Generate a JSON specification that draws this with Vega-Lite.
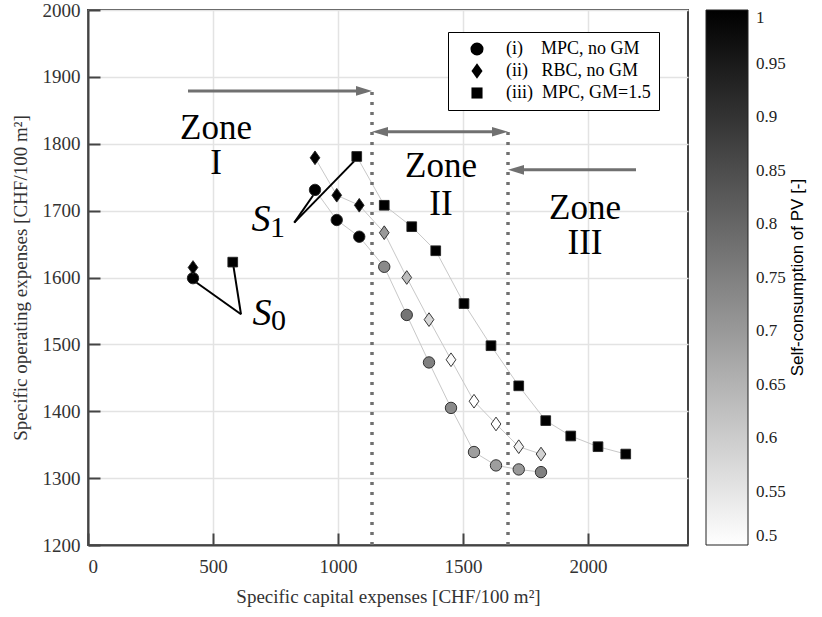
{
  "$schema": "https://vega.github.io/schema/vega-lite/v6.json",
  "width": 600,
  "height": 535,
  "autosize": {"type": "none"},
  "padding": {"left": 88, "top": 10, "right": 134, "bottom": 72},
  "background": "white",
  "config": {
    "view": {"stroke": "#444", "strokeWidth": 2},
    "axis": {
      "labelFont": "Liberation Serif", "labelFontSize": 19, "labelColor": "#333",
      "titleFont": "Liberation Serif", "titleFontSize": 19, "titleColor": "#333", "titleFontWeight": "normal",
      "domainColor": "#444", "domainWidth": 2, "tickColor": "#444", "tickWidth": 2, "tickSize": -12,
      "gridColor": "#e3e3e3", "gridWidth": 1.5
    },
    "legend": {"labelFont": "Liberation Serif", "labelColor": "#222"}
  },
  "datasets": {
    "pts": [
      {"series": "i", "x": 420, "y": 1599, "sc": 1, "conn": false},
      {"series": "i", "x": 908, "y": 1731, "sc": 1, "conn": true},
      {"series": "i", "x": 995, "y": 1686, "sc": 1, "conn": true},
      {"series": "i", "x": 1085, "y": 1661, "sc": 1, "conn": true},
      {"series": "i", "x": 1185, "y": 1616, "sc": 0.73, "conn": true},
      {"series": "i", "x": 1275, "y": 1544, "sc": 0.77, "conn": true},
      {"series": "i", "x": 1364, "y": 1473, "sc": 0.75, "conn": true},
      {"series": "i", "x": 1452, "y": 1405, "sc": 0.73, "conn": true},
      {"series": "i", "x": 1544, "y": 1339, "sc": 0.69, "conn": true},
      {"series": "i", "x": 1632, "y": 1319, "sc": 0.69, "conn": true},
      {"series": "i", "x": 1723, "y": 1313, "sc": 0.7, "conn": true},
      {"series": "i", "x": 1812, "y": 1309, "sc": 0.75, "conn": true},
      {"series": "ii", "x": 420, "y": 1615, "sc": 1, "conn": false},
      {"series": "ii", "x": 908, "y": 1779, "sc": 1, "conn": true},
      {"series": "ii", "x": 995, "y": 1723, "sc": 1, "conn": true},
      {"series": "ii", "x": 1085, "y": 1708, "sc": 1, "conn": true},
      {"series": "ii", "x": 1185, "y": 1667, "sc": 0.7, "conn": true},
      {"series": "ii", "x": 1275, "y": 1600, "sc": 0.63, "conn": true},
      {"series": "ii", "x": 1364, "y": 1537, "sc": 0.58, "conn": true},
      {"series": "ii", "x": 1452, "y": 1477, "sc": 0.51, "conn": true},
      {"series": "ii", "x": 1544, "y": 1415, "sc": 0.5, "conn": true},
      {"series": "ii", "x": 1632, "y": 1381, "sc": 0.5, "conn": true},
      {"series": "ii", "x": 1723, "y": 1347, "sc": 0.53, "conn": true},
      {"series": "ii", "x": 1812, "y": 1336, "sc": 0.59, "conn": true},
      {"series": "iii", "x": 579, "y": 1623, "sc": 1, "conn": false},
      {"series": "iii", "x": 1075, "y": 1781, "sc": 1, "conn": true},
      {"series": "iii", "x": 1185, "y": 1708, "sc": 1, "conn": true},
      {"series": "iii", "x": 1295, "y": 1676, "sc": 1, "conn": true},
      {"series": "iii", "x": 1391, "y": 1640, "sc": 1, "conn": true},
      {"series": "iii", "x": 1504, "y": 1561, "sc": 1, "conn": true},
      {"series": "iii", "x": 1612, "y": 1498, "sc": 1, "conn": true},
      {"series": "iii", "x": 1723, "y": 1438, "sc": 1, "conn": true},
      {"series": "iii", "x": 1831, "y": 1386, "sc": 1, "conn": true},
      {"series": "iii", "x": 1931, "y": 1363, "sc": 1, "conn": true},
      {"series": "iii", "x": 2040, "y": 1347, "sc": 1, "conn": true},
      {"series": "iii", "x": 2151, "y": 1336, "sc": 1, "conn": true}
    ],
    "ann": [
      {"x": 825, "y": 1682, "x2": 901, "y2": 1723},
      {"x": 825, "y": 1682, "x2": 1065, "y2": 1774},
      {"x": 612, "y": 1545, "x2": 428, "y2": 1594},
      {"x": 612, "y": 1545, "x2": 581, "y2": 1619}
    ],
    "vlines": [
      {"x": 1136, "y": 1200, "y2": 1881},
      {"x": 1680, "y": 1200, "y2": 1818}
    ],
    "arrows": [
      {"x": 400, "x2": 1110, "y": 1879},
      {"x": 1166, "x2": 1650, "y": 1818},
      {"x": 1710, "x2": 2192, "y": 1761}
    ],
    "heads": [
      {"x": 1104, "y": 1879, "dir": "r"},
      {"x": 1648, "y": 1818, "dir": "r"},
      {"x": 1168, "y": 1818, "dir": "l"},
      {"x": 1712, "y": 1761, "dir": "l"}
    ],
    "zones": [
      {"x": 512, "y": 1823, "t": "Zone"},
      {"x": 512, "y": 1771, "t": "I"},
      {"x": 1412, "y": 1766, "t": "Zone"},
      {"x": 1412, "y": 1710, "t": "II"},
      {"x": 1988, "y": 1704, "t": "Zone"},
      {"x": 1988, "y": 1651, "t": "III"}
    ],
    "slab": [
      {"x": 692, "y": 1686, "t": "S"},
      {"x": 696, "y": 1546, "t": "S"}
    ],
    "ssub": [
      {"x": 758, "y": 1674, "t": "1"},
      {"x": 762, "y": 1535, "t": "0"}
    ]
  },
  "encoding": {
    "x": {"field": "x", "type": "quantitative", "scale": {"domain": [0, 2400], "nice": false, "zero": false},
      "axis": {"values": [0, 500, 1000, 1500, 2000], "format": "d", "labelFont": "Liberation Serif", "labelColor": "#333", "labelFontSize": 19,
        "title": "Specific capital expenses [CHF/100 m²]", "labelPadding": 24, "titlePadding": 11}}
  },
  "resolve": {"scale": {"y": "independent"}, "axis": {"y": "independent"}},
  "layer": [
    {
      "encoding": {
        "y": {"field": "y", "type": "quantitative", "scale": {"domain": [1200, 2000], "nice": false, "zero": false},
          "axis": {"values": [1200, 1300, 1400, 1500, 1600, 1700, 1800, 1900, 2000], "format": "d", "labelFont": "Liberation Serif", "labelColor": "#333", "labelFontSize": 19,
            "title": "Specific operating expenses [CHF/100 m²]", "labelPadding": 20, "titlePadding": 12}}
      },
      "layer": [
        {
          "data": {"name": "pts"},
          "transform": [{"filter": "datum.conn"}],
          "mark": {"type": "line", "color": "#c8c8c8", "strokeWidth": 1},
          "encoding": {"detail": {"field": "series"}, "order": {"field": "x", "type": "quantitative"}}
        },
        {
          "data": {"name": "ann"},
          "mark": {"type": "rule", "color": "black", "strokeWidth": 2},
          "encoding": {"x2": {"field": "x2"}, "y2": {"field": "y2"}}
        },
        {
          "data": {"name": "vlines"},
          "mark": {"type": "rule", "color": "#707070", "strokeWidth": 3.5, "strokeDash": [3, 7]},
          "encoding": {"y2": {"field": "y2"}}
        },
        {
          "data": {"name": "arrows"},
          "mark": {"type": "rule", "color": "#707070", "strokeWidth": 3},
          "encoding": {"x2": {"field": "x2"}}
        },
        {
          "data": {"name": "heads"},
          "transform": [{"filter": "datum.dir == 'r'"}],
          "mark": {"type": "point", "filled": true, "color": "#707070", "opacity": 1, "size": 256, "shape": "M1,0L-1,-0.6L-1,0.6Z"},
          "encoding": {}
        },
        {
          "data": {"name": "heads"},
          "transform": [{"filter": "datum.dir == 'l'"}],
          "mark": {"type": "point", "filled": true, "color": "#707070", "opacity": 1, "size": 256, "shape": "M-1,0L1,-0.6L1,0.6Z"},
          "encoding": {}
        },
        {
          "data": {"name": "pts"},
          "mark": {"type": "point", "filled": true, "opacity": 1, "stroke": "#222", "strokeWidth": 0.9, "size": 130},
          "encoding": {
            "shape": {"field": "series", "type": "nominal",
              "scale": {"domain": ["i", "ii", "iii"], "range": ["circle", "M0,-1.2L0.85,0L0,1.2L-0.85,0Z", "M-0.85,-0.85L0.85,-0.85L0.85,0.85L-0.85,0.85Z"]},
              "legend": {"orient": "none", "legendX": 360, "legendY": 22, "title": null, "strokeColor": "black", "fillColor": "white",
                "padding": 8, "symbolSize": 170, "symbolFillColor": "black", "symbolStrokeColor": "black", "symbolStrokeWidth": 0,
                "labelFont": "Liberation Serif", "labelFontSize": 18, "labelColor": "black", "rowPadding": 4, "symbolOffset": 12, "labelOffset": 20,
                "labelExpr": "datum.label == 'i' ? '(i)\u00a0\u00a0\u00a0\u00a0MPC, no GM' : datum.label == 'ii' ? '(ii)\u00a0\u00a0\u00a0RBC, no GM' : '(iii)\u00a0\u00a0MPC, GM=1.5'"}},
            "color": {"field": "sc", "type": "quantitative",
              "scale": {"domain": [0.5, 1], "range": ["#ffffff", "#000000"], "interpolate": "rgb"},
              "legend": {"orient": "none", "legendX": 618, "legendY": 0, "padding": 0, "gradientLength": 535, "gradientThickness": 42,
                "gradientStrokeColor": "#222", "gradientStrokeWidth": 1, "title": null,
                "values": [0.5, 0.55, 0.6, 0.65, 0.7, 0.75, 0.8, 0.85, 0.9, 0.95, 1], "format": "~g",
                "labelFont": "Liberation Serif", "labelColor": "#222", "labelFontSize": 17, "labelOffset": 8, "labelOverlap": false}}
          }
        },
        {
          "data": {"name": "zones"},
          "mark": {"type": "text", "font": "Liberation Serif", "fontSize": 35, "color": "black", "align": "center", "baseline": "middle"},
          "encoding": {"text": {"field": "t"}}
        },
        {
          "data": {"name": "slab"},
          "mark": {"type": "text", "font": "Liberation Serif", "fontSize": 38, "fontStyle": "italic", "color": "black", "align": "center", "baseline": "middle"},
          "encoding": {"text": {"field": "t"}}
        },
        {
          "data": {"name": "ssub"},
          "mark": {"type": "text", "font": "Liberation Serif", "fontSize": 30, "color": "black", "align": "center", "baseline": "middle"},
          "encoding": {"text": {"field": "t"}}
        }
      ]
    },
    {
      "data": {"name": "vlines"},
      "mark": {"type": "point", "opacity": 0},
      "encoding": {
        "y": {"field": "y", "type": "quantitative", "scale": {"domain": [1200, 2000], "nice": false, "zero": false},
          "axis": {"orient": "right", "labels": false, "ticks": false, "domain": false, "grid": false,
            "title": "Self-consumption of PV [-]", "titleFont": "Liberation Sans", "titleFontSize": 17, "titleFontWeight": "normal",
            "titleColor": "black", "titleAngle": 270, "titleX": 109, "titleY": 267, "titleAlign": "center", "titleBaseline": "middle"}}
      }
    }
  ]
}
